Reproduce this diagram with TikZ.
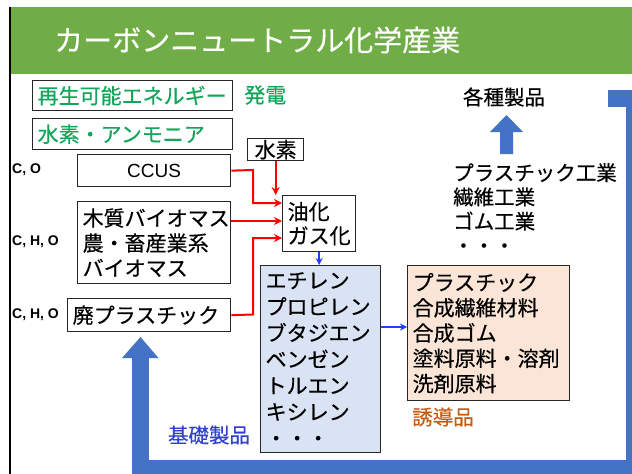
\documentclass[tikz,border=0pt]{standalone}
\usepackage{fontspec}
\setmainfont{Noto Sans CJK JP}[FakeBold=0.4]
\newfontfamily\lat{Liberation Sans}
\usetikzlibrary{arrows.meta}
\definecolor{titlegreen}{HTML}{70AD47}
\definecolor{txtgreen}{HTML}{13A55A}
\definecolor{bigblue}{HTML}{4472C4}
\definecolor{boxblue}{HTML}{DAE3F3}
\definecolor{boxpeach}{HTML}{FBE5D6}
\definecolor{thinblue}{HTML}{1F3FFF}
\definecolor{kisoblue}{HTML}{3040D0}
\definecolor{brownt}{HTML}{C55A11}
\definecolor{arrred}{HTML}{FF0000}
\begin{document}
\begin{tikzpicture}[x=1pt,y=-1pt,
  box/.style={draw=black!85, line width=1.3pt, inner xsep=5pt, inner ysep=0pt,
    align=left, anchor=north west, font=\fontsize{21}{25}\selectfont},
  plain/.style={inner sep=0pt, font=\fontsize{20.5}{24}\selectfont},
  elem/.style={inner sep=0pt, font=\lat\bfseries\fontsize{14}{16}\selectfont},
  redarr/.style={arrred, line width=2pt, -{Stealth[length=8pt,width=8pt]}},
  bluearr/.style={thinblue, line width=1.6pt, -{Stealth[length=7pt,width=7pt]}}]
\useasboundingbox (0,0) rectangle (632,474);
\clip (0,0) rectangle (632,474);
\fill[white] (0,0) rectangle (632,474);
% title bar
\fill[titlegreen] (10,7) rectangle (632,74);
\draw[black, line width=1.5pt] (10,7) -- (10,474);
\node[anchor=west, inner sep=0pt, text=white, font=\fontsize{29}{31}\selectfont] (title) at (54,40) {カーボンニュートラル化学産業};
% left column boxes
\node[box, text width=190pt, minimum height=30pt, text=txtgreen] (renew) at (32,80) {再生可能エネルギー};
\node[plain, anchor=west, text=txtgreen, font=\fontsize{21}{24}\selectfont] (power) at (244,95) {発電};
\node[box, text width=190pt, minimum height=31pt, text=txtgreen] (h2nh3) at (32,118) {水素・アンモニア};
\node[box, text width=143pt, minimum height=32pt, align=center, font=\lat\fontsize{19}{21}\selectfont] (ccus) at (77,154) {CCUS};
\node[box, text width=46pt, minimum height=22pt, align=center] (suiso) at (247,138) {水素};
\node[box, text width=143pt, minimum height=82pt] (bio) at (77,201) {木質バイオマス\\農・畜産業系\\バイオマス};
\node[box, text width=153pt, minimum height=33pt] (waste) at (67,298) {廃プラスチック};
\node[elem, anchor=west] (co) at (12,170) {C, O};
\node[elem, anchor=west] (cho1) at (12,242) {C, H, O};
\node[elem, anchor=west] (cho2) at (12,315) {C, H, O};
% process
\node[box, text width=63pt, minimum height=56pt, font=\fontsize{21}{24}\selectfont] (oil) at (282,195) {油化\\ガス化};
\node[box, fill=boxblue, text width=110pt, minimum height=187pt, font=\fontsize{21}{26.3}\selectfont] (basic) at (260,265) {エチレン\\プロピレン\\ブタジエン\\ベンゼン\\トルエン\\キシレン\\・・・};
\node[box, fill=boxpeach, text width=152pt, minimum height=135pt, font=\fontsize{21}{25.3}\selectfont] (deriv) at (407,265) {プラスチック\\合成繊維材料\\合成ゴム\\塗料原料・溶剤\\洗剤原料};
\node[plain, text=brownt] (derivlab) at (443,417) {誘導品};
\node[plain, text=kisoblue] (basiclab) at (209,435) {基礎製品};
% right texts
\node[plain] (prod) at (504,97) {各種製品};
\node[plain, anchor=north west, align=left, font=\fontsize{20.5}{24.3}\selectfont] (ind) at (453,163) {プラスチック工業\\繊維工業\\ゴム工業\\・・・};
% red arrows
\draw[redarr] (ccus.east) -- (253,170) -- (253,203) -- (oil.west |- 0,203);
\draw[redarr] (suiso.south) -- (suiso.south |- oil.north);
\draw[redarr] (bio.east |- 0,221) -- (oil.west |- 0,221);
\draw[redarr] (waste.east) -- (253,314.5) -- (253,238) -- (oil.west |- 0,238);
% blue thin arrows
\draw[bluearr] (oil.south) -- (oil.south |- basic.north);
\draw[bluearr] (basic.east |- 0,327) -- (deriv.west |- 0,327);
% big recycle band
\coordinate (loopstart) at (608,98.5);
\draw[bigblue, line width=17pt] (loopstart) -- (634,98.5) -- (634,468) -- (140.5,468) -- (140.5,356);
\fill[bigblue] (122,358) -- (158.5,358) -- (140.5,337) -- cycle;
% up arrow to products
\fill[bigblue] (500,154) -- (500,132) -- (490,132) -- (506.5,115) -- (523,132) -- (513,132) -- (513,154) -- cycle;
\end{tikzpicture}
\end{document}
